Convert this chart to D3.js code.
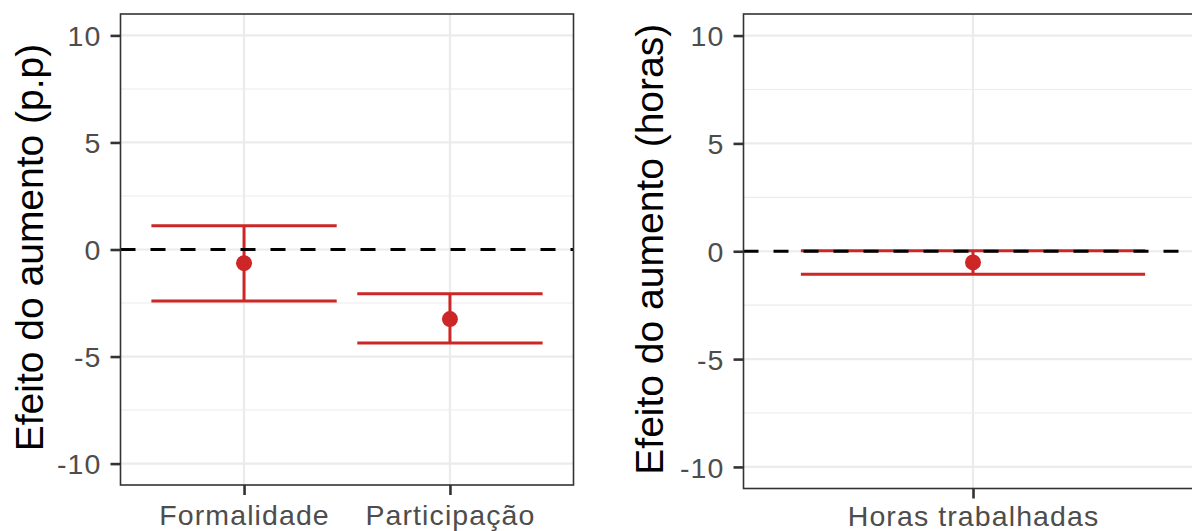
<!DOCTYPE html>
<html>
<head>
<meta charset="utf-8">
<script src="https://cdn.jsdelivr.net/npm/d3@7"></script>
<style>
  html, body { margin: 0; padding: 0; background: #fff; }
  svg { display: block; }
</style>
</head>
<body>
<svg id="chart" width="1192" height="531"></svg>
<script>
// ---- data ----
const categoriesLeft = ["Formalidade", "Participação"];
const estimateLeft = [-0.64, -3.25];
const lowerLeft = [-2.41, -4.37];
const upperLeft = [1.11, -2.07];

const categoriesRight = ["Horas trabalhadas"];
const estimateRight = [-0.52];
const lowerRight = [-1.07];
const upperRight = [0.02];

const yTickValues = [-10, -5, 0, 5, 10];
const yTickLabels = ["-10", "-5", "0", "5", "10"];
const yMinorValues = [-7.5, -2.5, 2.5, 7.5];
const yLimits = [-11, 11];
const titleLeft = "Efeito do aumento (p.p)";
const titleRight = "Efeito do aumento (horas)";

// ---- drawing ----
const svg = d3.select("#chart");
const RED = "#CD2626";
const GRID = "#EBEBEB";
const DARK = "#333333";
const TXT = "#4D4D4D";
const FONT = "'Liberation Sans', Arial, Helvetica, sans-serif";

function panel(cfg) {
  const { left, right, top, bottom, cats, est, lo, hi, title, titleX, labelY } = cfg;
  const g = svg.append("g");
  const y = d3.scaleLinear().domain(yLimits).range([bottom, top]);
  const x = d3.scalePoint().domain(cats).range([left, right]).padding(0.6);
  const step = x.step();

  const clipId = "clip" + Math.round(left);
  svg.append("clipPath").attr("id", clipId)
    .append("rect").attr("x", left).attr("y", top).attr("width", right - left).attr("height", bottom - top);
  const inner = g.append("g").attr("clip-path", `url(#${clipId})`);

  // minor grid
  inner.selectAll(".minor").data(yMinorValues).join("line")
    .attr("x1", left).attr("x2", right)
    .attr("y1", d => y(d)).attr("y2", d => y(d))
    .attr("stroke", GRID).attr("stroke-width", 1.1);
  // major grid
  inner.selectAll(".major").data(yTickValues).join("line")
    .attr("x1", left).attr("x2", right)
    .attr("y1", d => y(d)).attr("y2", d => y(d))
    .attr("stroke", GRID).attr("stroke-width", 2.2);
  inner.selectAll(".vmajor").data(cats).join("line")
    .attr("x1", d => x(d)).attr("x2", d => x(d))
    .attr("y1", top).attr("y2", bottom)
    .attr("stroke", GRID).attr("stroke-width", 2.2);

  const data = cats.map((c, i) => ({ c, est: est[i], lo: lo[i], hi: hi[i] }));
  const hw = step * 0.45;
  // error bars
  const eb = inner.selectAll(".eb").data(data).join("g")
    .attr("stroke", RED).attr("stroke-width", 3).attr("fill", "none");
  eb.append("line").attr("x1", d => x(d.c)).attr("x2", d => x(d.c))
    .attr("y1", d => y(d.hi)).attr("y2", d => y(d.lo));
  eb.append("line").attr("x1", d => x(d.c) - hw).attr("x2", d => x(d.c) + hw)
    .attr("y1", d => y(d.hi)).attr("y2", d => y(d.hi));
  eb.append("line").attr("x1", d => x(d.c) - hw).attr("x2", d => x(d.c) + hw)
    .attr("y1", d => y(d.lo)).attr("y2", d => y(d.lo));
  // points
  inner.selectAll(".pt").data(data).join("circle")
    .attr("cx", d => x(d.c)).attr("cy", d => y(d.est)).attr("r", 8)
    .attr("fill", RED);

  // reference line at zero
  inner.append("line")
    .attr("x1", left).attr("x2", right + 40)
    .attr("y1", y(0)).attr("y2", y(0))
    .attr("stroke", "#000").attr("stroke-width", 3)
    .attr("stroke-dasharray", "15,15");

  // border
  g.append("rect").attr("x", left).attr("y", top)
    .attr("width", right - left).attr("height", bottom - top)
    .attr("fill", "none").attr("stroke", DARK).attr("stroke-width", 1.6);

  // y axis
  const yAxis = d3.axisLeft(y).tickValues(yTickValues).tickSize(10).tickPadding(9)
    .tickFormat((d, i) => yTickLabels[i]);
  const ya = g.append("g").attr("transform", `translate(${left},0)`).call(yAxis);
  ya.select(".domain").remove();
  ya.selectAll(".tick line").attr("stroke", DARK).attr("stroke-width", 2.6);
  ya.selectAll(".tick text").attr("fill", TXT).attr("font-size", 28.5)
    .attr("font-family", FONT).attr("letter-spacing", "1.1px").attr("dy", "0.36em");

  // x axis
  const xAxis = d3.axisBottom(x).tickSize(10).tickPadding(12);
  const xa = g.append("g").attr("transform", `translate(0,${bottom})`).call(xAxis);
  xa.select(".domain").remove();
  xa.selectAll(".tick line").attr("stroke", DARK).attr("stroke-width", 2.6);
  xa.selectAll(".tick text").attr("fill", TXT).attr("font-size", 28.5)
    .attr("font-family", FONT).attr("letter-spacing", "1.1px")
    .attr("y", labelY - bottom).attr("dy", 0);

  // title
  g.append("text")
    .attr("transform", `translate(${titleX},${(top + bottom) / 2 - 2}) rotate(-90)`)
    .attr("text-anchor", "middle")
    .attr("font-family", FONT).attr("font-size", 39).attr("fill", "#000")
    .text(title);
}

panel({ left: 120.5, right: 573.5, top: 14, bottom: 485, cats: categoriesLeft,
  est: estimateLeft, lo: lowerLeft, hi: upperLeft, title: titleLeft, titleX: 43, labelY: 525 });
panel({ left: 743.5, right: 1202.5, top: 14, bottom: 488.5, cats: categoriesRight,
  est: estimateRight, lo: lowerRight, hi: upperRight, title: titleRight, titleX: 663, labelY: 526 });
</script>
</body>
</html>
